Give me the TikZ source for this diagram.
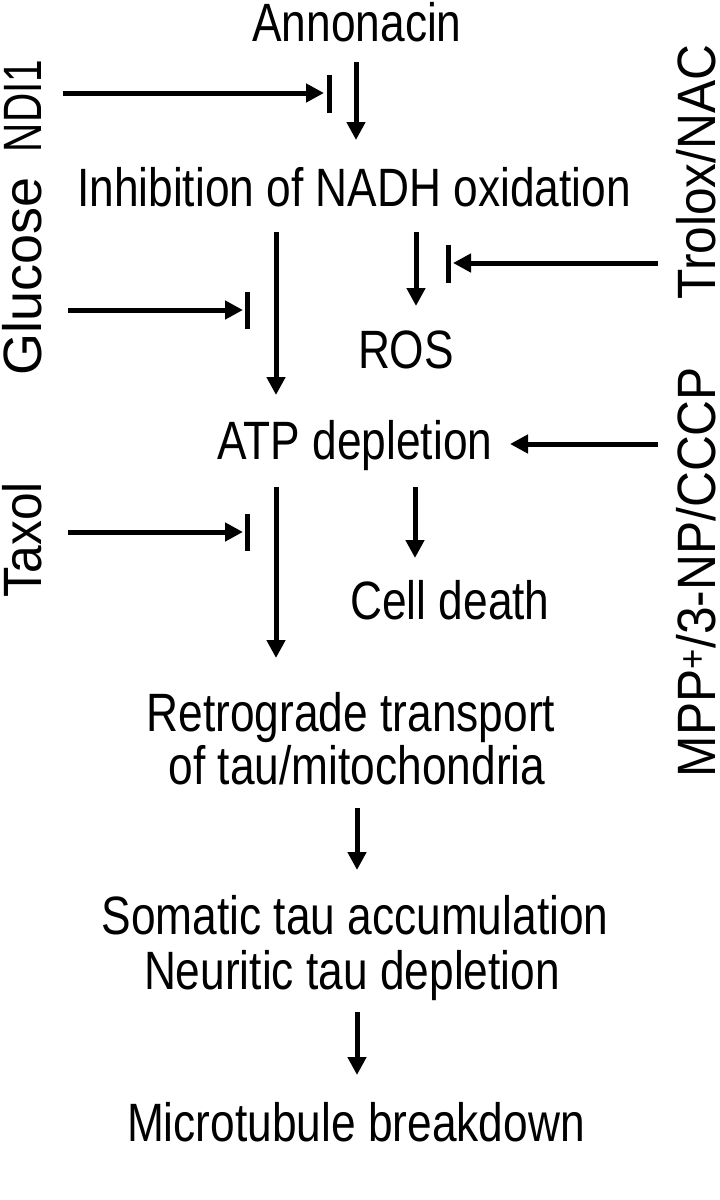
\documentclass[tikz,border=0pt]{standalone}
\usepackage{fontspec}
\setmainfont{Liberation Sans}[FakeStretch=0.82]
\newfontfamily\sidefont{Liberation Sans}[FakeStretch=0.92]
\newfontfamily\narrowside{Liberation Sans}[FakeStretch=0.75]
\newfontfamily\wideside{Liberation Sans}
\usetikzlibrary{arrows.meta}
\begin{document}
\begin{tikzpicture}[x=1pt,y=-1pt,
  lbl/.style={inner sep=0pt, anchor=base, font=\fontsize{54}{60}\selectfont},
  vlbl/.style={inner sep=0pt, anchor=base, rotate=90, font=\sidefont\fontsize{54}{60}\selectfont},
  arr/.style={line width=5pt, -{Triangle[length=18pt,width=18pt]}},
  barline/.style={line width=5pt}]
\useasboundingbox (0,0) rectangle (720,1200);
% main text nodes
\node[lbl] (ann) at (357,41) {Annonacin};
\node[lbl] (inh) at (354,206) {Inhibition of NADH oxidation};
\node[lbl] (ros) at (406,368) {ROS};
\node[lbl] (atp) at (355,459) {ATP depletion};
\node[lbl] (cd)  at (450,619) {Cell death};
\node[lbl] (rt1) at (351,731) {Retrograde transport};
\node[lbl] (rt2) at (357,784) {of tau/mitochondria};
\node[lbl] (som) at (355,934) {Somatic tau accumulation};
\node[lbl] (neu) at (352,989) {Neuritic tau depletion};
\node[lbl] (mic) at (356,1141) {Microtubule breakdown};
% side labels
\node[vlbl, font=\narrowside\fontsize{54}{60}\selectfont] (ndi) at (41,106) {NDI1};
\node[vlbl, font=\wideside\fontsize{54}{60}\selectfont] (glu) at (41,276) {Glucose};
\node[vlbl] (tax) at (41,540) {Taxol};
\node[vlbl] (tro) at (715,172) {Trolox/NAC};
\node[vlbl] (mpp) at (715,572) {MPP\textsuperscript{+}/3-NP/CCCP};
% arrow end points
\coordinate (a1s) at (356,62);  \coordinate (a1e) at (356,140);
\coordinate (a2s) at (276,232); \coordinate (a2e) at (276,395);
\coordinate (a3s) at (416,232); \coordinate (a3e) at (416,306);
\coordinate (a4s) at (276,487); \coordinate (a4e) at (276,658);
\coordinate (a5s) at (415,487); \coordinate (a5e) at (415,558);
\coordinate (a6s) at (357,808); \coordinate (a6e) at (357,870);
\coordinate (a7s) at (357,1012); \coordinate (a7e) at (357,1075);
% inhibitor bars
\coordinate (b1t) at (329,75);  \coordinate (b1b) at (329,113);
\coordinate (b2t) at (247,292); \coordinate (b2b) at (247,329);
\coordinate (b3t) at (448,245); \coordinate (b3b) at (448,283);
\coordinate (b4t) at (247,514); \coordinate (b4b) at (247,551);
% side arrow points
\coordinate (s1s) at (63,93);   \coordinate (s1e) at (324,93);
\coordinate (s2s) at (68,310);  \coordinate (s2e) at (243,310);
\coordinate (s3s) at (658,263); \coordinate (s3e) at (453,263);
\coordinate (s4s) at (68,532);  \coordinate (s4e) at (243,532);
\coordinate (s5s) at (658,444); \coordinate (s5e) at (510,444);
% main arrows
\draw[arr] (a1s) -- (a1e);
\draw[arr] (a2s) -- (a2e);
\draw[arr] (a3s) -- (a3e);
\draw[arr] (a4s) -- (a4e);
\draw[arr] (a5s) -- (a5e);
\draw[arr] (a6s) -- (a6e);
\draw[arr] (a7s) -- (a7e);
% side arrows and bars
\draw[arr] (s1s) -- (s1e); \draw[barline] (b1t) -- (b1b);
\draw[arr] (s2s) -- (s2e); \draw[barline] (b2t) -- (b2b);
\draw[arr] (s3s) -- (s3e); \draw[barline] (b3t) -- (b3b);
\draw[arr] (s4s) -- (s4e); \draw[barline] (b4t) -- (b4b);
\draw[arr] (s5s) -- (s5e);
\end{tikzpicture}
\end{document}
